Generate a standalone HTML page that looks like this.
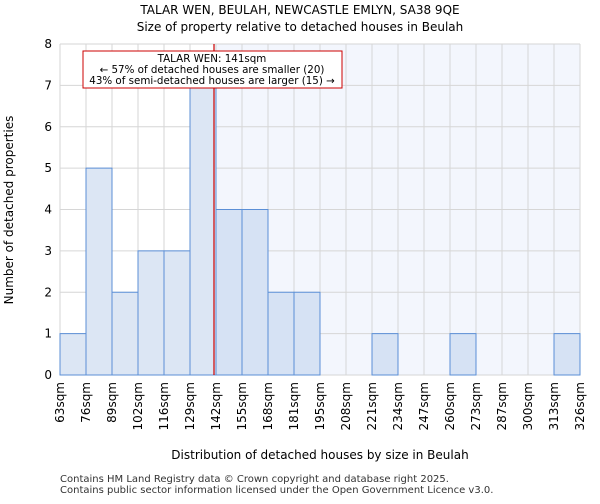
<!DOCTYPE html>
<html><head><meta charset="utf-8"><style>body{margin:0;background:#fff;font-family:"DejaVu Sans","Liberation Sans",sans-serif}</style></head>
<body>
<svg width="600" height="500" xmlns="http://www.w3.org/2000/svg" font-family="DejaVu Sans, Liberation Sans, sans-serif">
<g id="plot"></g>
<text x="300" y="14" text-anchor="middle" font-size="12">TALAR WEN, BEULAH, NEWCASTLE EMLYN, SA38 9QE</text>
<text x="300" y="31" text-anchor="middle" font-size="12">Size of property relative to detached houses in Beulah</text>
<text x="320" y="459" text-anchor="middle" font-size="12">Distribution of detached houses by size in Beulah</text>
<text transform="translate(13,210) rotate(-90)" text-anchor="middle" font-size="12">Number of detached properties</text>
<text x="60" y="482" font-size="10" fill="#333">Contains HM Land Registry data © Crown copyright and database right 2025.</text>
<text x="60" y="493" font-size="10" fill="#333">Contains public sector information licensed under the Open Government Licence v3.0.</text>
</svg>
<script>
const binLabels=["63sqm","76sqm","89sqm","102sqm","116sqm","129sqm","142sqm","155sqm","168sqm","181sqm","195sqm","208sqm","221sqm","234sqm","247sqm","260sqm","273sqm","287sqm","300sqm","313sqm","326sqm"];
const counts=[1,5,2,3,3,7,4,4,2,2,0,0,1,0,0,1,0,0,0,1];
const yTicks=[0,1,2,3,4,5,6,7,8];
const propertyBin=5+12/13;
const NS="http://www.w3.org/2000/svg";
const x0=60,x1=580,y0=375,y1=44;
const bw=(x1-x0)/counts.length;
const X=i=>x0+i*bw, Y=v=>y0-(v/8)*(y0-y1);
const g=document.getElementById('plot');
function mk(t,a){const e=document.createElementNS(NS,t);for(const k in a)e.setAttribute(k,a[k]);g.appendChild(e);return e;}
const lx=X(propertyBin);
let e=mk('rect',{x:lx,y:y1,width:x1-lx,height:y0-y1,fill:'#f3f6fd'});

for(let i=0;i<=counts.length;i++){e=mk('line',{x1:X(i),x2:X(i),y1:y1,y2:y0,stroke:'#d6d6d6','stroke-width':1});}
yTicks.forEach(v=>{e=mk('line',{x1:x0,x2:x1,y1:Y(v),y2:Y(v),stroke:'#d6d6d6','stroke-width':1});
 e=mk('text',{x:x0-8,y:Y(v)+4,'text-anchor':'end','font-size':12});e.textContent=v;});
counts.forEach((c,i)=>{if(!c)return;e=mk('rect',{x:X(i),y:Y(c),width:bw,height:Y(0)-Y(c),fill:i<6?'#dce6f4':'#d6e2f4',stroke:'#5b8fd6','stroke-width':1});});
binLabels.forEach((l,i)=>{e=mk('text',{transform:`translate(${X(i)+4},382) rotate(-90)`,'text-anchor':'end','font-size':12});e.textContent=l;});
e=mk('line',{x1:lx,x2:lx,y1:y1,y2:y0,stroke:'#cc0000','stroke-width':1.2});
e=mk('rect',{x:83,y:51,width:259,height:37,fill:'#fff',stroke:'#cc0000','stroke-width':1});
["TALAR WEN: 141sqm","← 57% of detached houses are smaller (20)","43% of semi-detached houses are larger (15) →"].forEach((t,i)=>{e=mk('text',{x:212,y:62+i*11,'text-anchor':'middle','font-size':10.3});e.textContent=t;});
</script>
</body></html>
